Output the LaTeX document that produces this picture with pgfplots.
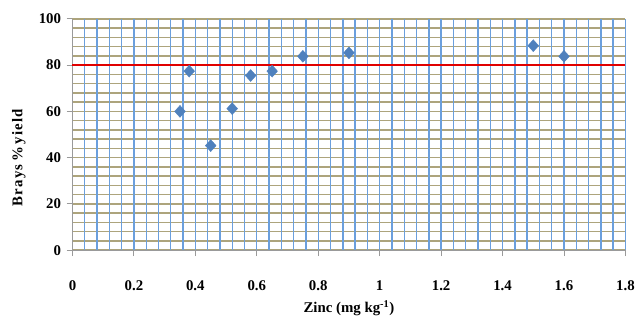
\documentclass[border=0pt]{standalone}
\usepackage{fontspec}
\setmainfont{Liberation Serif}
\usepackage{pgfplots}
\pgfplotsset{compat=1.18}
\definecolor{gridblue}{HTML}{6B9FDC}
\definecolor{gridolive}{HTML}{ADA47C}
\definecolor{mk}{HTML}{4F81BD}
\definecolor{axgray}{HTML}{9A9A9A}
\definecolor{refred}{HTML}{E00000}
\begin{document}
\begin{tikzpicture}
\begin{axis}[
  scale only axis, width=557bp, height=233bp,
  xmin=0, xmax=1.8, ymin=0, ymax=100,
  axis x line*=bottom, axis y line*=left,
  axis line style={axgray, line width=1.2bp, -},
  xtick={0,0.2,0.4,0.6,0.8,1,1.2,1.4,1.6,1.8},
  xticklabels={0,0.2,0.4,0.6,0.8,1,1.2,1.4,1.6,1.8},
  ytick={0,20,40,60,80,100},
  yticklabels={0,20,40,60,80,100},
  minor y tick num=4,
  ymajorgrids, yminorgrids,
  y grid style={gridolive, line width=1.4bp},
  extra x ticks={0.04,0.08,0.12,0.16,0.2,0.24,0.28,0.32,0.36,0.4,0.44,0.48,0.52,0.56,0.6,0.64,0.68,0.72,0.76,0.8,0.84,0.88,0.92,0.96,1,1.04,1.08,1.12,1.16,1.2,1.24,1.28,1.32,1.36,1.4,1.44,1.48,1.52,1.56,1.6,1.64,1.68,1.72,1.76,1.8},
  extra x tick labels={},
  extra x tick style={grid=major, major tick length=0pt, major grid style={gridblue, line width=1.4bp}},
  tick align=outside, major tick length=6bp, minor tick length=0pt,
  tick style={axgray, line width=1bp},
  ticklabel style={font=\fontsize{15}{18}\selectfont\bfseries},
  xticklabel style={yshift=-21bp},
  yticklabel style={xshift=-2bp},
  xlabel={Zinc (mg kg\textsuperscript{-1})},
  ylabel={Brays\,\%\,yield},
  label style={font=\fontsize{15}{18}\selectfont\bfseries},
  xlabel style={at={(axis description cs:0.5,-0.25)}, anchor=center},
  ylabel style={at={(axis description cs:-0.097,0.40)}, anchor=center, font=\fontsize{15}{18}\selectfont\bfseries\addfontfeature{LetterSpace=8}},
  clip=false,
]
\addplot[refred, line width=1.4bp] coordinates {(0,80) (1.8,80)};
\addplot[only marks, mark=diamond*, mark size=6bp, mark options={fill=mk, draw=mk, xscale=1.2}]
  coordinates {
  (0.35,60) (0.38,77.4) (0.45,45.2) (0.52,61.2) (0.58,75.5)
  (0.65,77.4) (0.75,83.8) (0.90,85.3) (1.50,88.4) (1.60,83.8)
  };
\end{axis}
\path ([shift={(-73bp,-73bp)}]current axis.south west) rectangle ([shift={(8bp,19bp)}]current axis.north east);
\end{tikzpicture}
\end{document}
